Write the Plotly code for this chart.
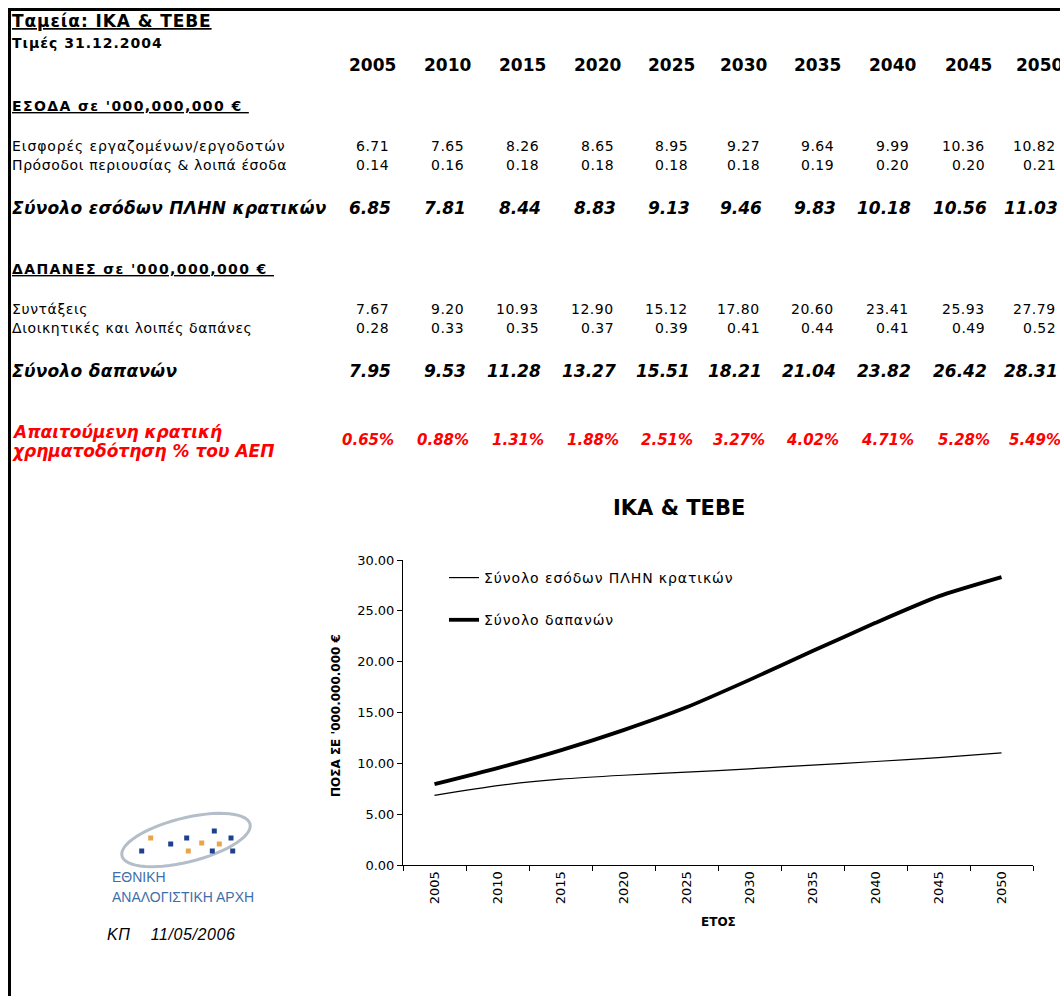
# ΙΚΑ & ΤΕΒΕ - εσοδα / δαπανες 2005-2050

import numpy as np
import plotly.graph_objects as go

W, H = 1060, 996
FONT = "DejaVu Sans"

# data (σε '000,000,000 €)
years = ["2005", "2010", "2015", "2020", "2025", "2030", "2035", "2040", "2045", "2050"]
eisfores = [6.71, 7.65, 8.26, 8.65, 8.95, 9.27, 9.64, 9.99, 10.36, 10.82]
prosodoi = [0.14, 0.16, 0.18, 0.18, 0.18, 0.18, 0.19, 0.20, 0.20, 0.21]
synolo_esodon = [6.85, 7.81, 8.44, 8.83, 9.13, 9.46, 9.83, 10.18, 10.56, 11.03]
syntakseis = [7.67, 9.20, 10.93, 12.90, 15.12, 17.80, 20.60, 23.41, 25.93, 27.79]
dioikitikes = [0.28, 0.33, 0.35, 0.37, 0.39, 0.41, 0.44, 0.41, 0.49, 0.52]
synolo_dapanon = [7.95, 9.53, 11.28, 13.27, 15.51, 18.21, 21.04, 23.82, 26.42, 28.31]
xrimatodotisi = [0.65, 0.88, 1.31, 1.88, 2.51, 3.27, 4.02, 4.71, 5.28, 5.49]  # % του ΑΕΠ


def px(x):
    return x / W


def py(y):
    return 1 - y / H


def spaced(text, ls):
    return f'<span style="letter-spacing:{ls}px">{text}</span>'


annotations = []


def note(text, x, y, size, anchor="left", color="black", weight="normal",
         style="normal", family=FONT, angle=0):
    annotations.append(dict(
        text=text, x=px(x), y=py(y), xref="paper", yref="paper",
        xanchor=anchor, yanchor="middle", showarrow=False, textangle=angle,
        borderpad=0,
        font=dict(family=family, size=size, color=color, weight=weight, style=style),
    ))


# table (right edge of each year column, pixels)
col_right = [389.6, 465, 540.4, 614.9, 689.4, 760.6, 835, 909.6, 986.4, 1057]

note("<u>" + spaced("Ταμεία: ΙΚΑ & ΤΕΒΕ", 0.9) + "</u>", 11, 21, 17, weight="bold")
note(spaced("Τιμές 31.12.2004", 1), 11, 43, 14, weight="bold")
for i, yr in enumerate(years):
    note(yr, col_right[i] + 7, 65, 17, anchor="right", weight="bold")

note("<u>" + spaced("ΕΣΟΔΑ σε '000,000,000 €\u00a0", 1.4) + "</u>", 11, 106, 14, weight="bold")
note(spaced("Εισφορές εργαζομένων/εργοδοτών", 0.9), 11, 146, 14)
note(spaced("Πρόσοδοι περιουσίας & λοιπά έσοδα", 0.6), 11, 165, 14)
note(spaced("Σύνολο εσόδων ΠΛΗΝ κρατικών", 0.3), 11, 208, 17, weight="bold", style="italic")

note("<u>" + spaced("ΔΑΠΑΝΕΣ σε '000,000,000 €\u00a0", 1.4) + "</u>", 11, 269, 14, weight="bold")
note(spaced("Συντάξεις", 0.6), 11, 309, 14)
note(spaced("Διοικητικές και λοιπές δαπάνες", 0.6), 11, 328, 14)
note(spaced("Σύνολο δαπανών", 0.3), 11, 371, 17, weight="bold", style="italic")

note("Απαιτούμενη κρατική", 11, 432, 17, color="#ff0000", weight="bold", style="italic")
note("χρηματοδότηση % του ΑΕΠ", 11, 451, 17, color="#ff0000", weight="bold", style="italic")

for i in range(len(years)):
    r = col_right[i]
    note(spaced(f"{eisfores[i]:.2f}", 0.5), r, 146, 14, anchor="right")
    note(spaced(f"{prosodoi[i]:.2f}", 0.5), r, 165, 14, anchor="right")
    note(f"{synolo_esodon[i]:.2f}", r + 2, 208, 17, anchor="right", weight="bold", style="italic")
    note(spaced(f"{syntakseis[i]:.2f}", 0.5), r, 309, 14, anchor="right")
    note(spaced(f"{dioikitikes[i]:.2f}", 0.5), r, 328, 14, anchor="right")
    note(f"{synolo_dapanon[i]:.2f}", r + 2, 371, 17, anchor="right", weight="bold", style="italic")
    note(f"{xrimatodotisi[i]:.2f}%", r + 5, 440, 15, anchor="right", color="#ff0000",
         weight="bold", style="italic")

# chart titles
note("ΙΚΑ & ΤΕΒΕ", 679, 508, 21, anchor="center", weight="bold")
note("ΠΟΣΑ ΣΕ '000.000.000 €", 336, 716, 12, anchor="center", weight="bold", angle=-90)
note("ΕΤΟΣ", 718, 922, 12, anchor="center", weight="bold")

# logo text
LOGO_FONT = "Liberation Sans Narrow, Liberation Sans"
note("ΕΘΝΙΚΗ", 111, 877, 14, color="#3f6fa8", family=LOGO_FONT)
note("ΑΝΑΛΟΓΙΣΤΙΚΗ ΑΡΧΗ", 111, 897, 14, color="#3f6fa8", family=LOGO_FONT)
note(spaced("ΚΠ\u00a0\u00a0\u00a0\u00a011/05/2006", 0.6), 106, 934, 16, style="italic",
     family="Liberation Sans")

shapes = []
# sheet borders
shapes.append(dict(type="line", xref="paper", yref="paper", x0=px(9.5), x1=px(9.5),
                   y0=py(8), y1=py(996), line=dict(color="black", width=3)))
shapes.append(dict(type="line", xref="paper", yref="paper", x0=px(8), x1=px(1060),
                   y0=py(9.5), y1=py(9.5), line=dict(color="black", width=3)))

# logo ring
t = np.linspace(0, 2 * np.pi, 60)
ang = np.deg2rad(-14)
ex = 186 + 66 * np.cos(t) * np.cos(ang) - 22 * np.sin(t) * np.sin(ang)
ey = 840 + 66 * np.cos(t) * np.sin(ang) + 22 * np.sin(t) * np.cos(ang)
path = "M " + " L ".join(f"{px(a):.5f},{py(b):.5f}" for a, b in zip(ex, ey)) + " Z"
shapes.append(dict(type="path", xref="paper", yref="paper", path=path,
                   line=dict(color="#b4bec8", width=3)))

# logo squares
squares = [(141.7, 851, "b"), (150.7, 838, "o"), (170.7, 844, "b"), (186.7, 838, "b"),
           (188.3, 851, "o"), (201.7, 843, "o"), (214.3, 831, "b"), (212.3, 851, "b"),
           (219.3, 844, "o"), (231, 838, "b"), (232.7, 851, "b")]
for sx, sy, c in squares:
    shapes.append(dict(type="rect", xref="paper", yref="paper",
                       x0=px(sx - 2.5), x1=px(sx + 2.5), y0=py(sy + 2.5), y1=py(sy - 2.5),
                       fillcolor="#1f3f8f" if c == "b" else "#e8a54b", line=dict(width=0)))

fig = go.Figure()
fig.add_trace(go.Scatter(x=years, y=synolo_esodon, mode="lines",
                         name=spaced("Σύνολο εσόδων ΠΛΗΝ κρατικών", 0.9),
                         line=dict(color="black", width=1.2, shape="spline", smoothing=0.6),
                         legendgroup="a", hoverinfo="skip"))
fig.add_trace(go.Scatter(x=years, y=synolo_dapanon, mode="lines",
                         name=spaced("Σύνολο δαπανών", 0.9),
                         line=dict(color="black", width=3.8, shape="spline", smoothing=0.6),
                         legendgroup="b", hoverinfo="skip"))

fig.update_layout(
    width=W, height=H, autosize=False,
    margin=dict(l=0, r=0, t=0, b=0, autoexpand=False),
    paper_bgcolor="white", plot_bgcolor="white",
    font=dict(family=FONT, color="black"),
    showlegend=True,
    legend=dict(x=px(444), y=py(562), xanchor="left", yanchor="top",
                bgcolor="rgba(0,0,0,0)", font=dict(family=FONT, size=14, color="black"),
                itemwidth=30, traceorder="grouped", tracegroupgap=21),
    xaxis=dict(domain=[px(403), px(1033)], type="category", range=[-0.5, 9.5],
               showline=True, linecolor="black", linewidth=1, showgrid=False,
               ticks="outside", ticklen=5, tickcolor="black", tickson="boundaries",
               tickangle=-90, tickfont=dict(family=FONT, size=13, color="black"),
               zeroline=False, automargin=False),
    yaxis=dict(domain=[py(865), py(560)], range=[0, 30], dtick=5, tickformat=".2f",
               showline=True, linecolor="black", linewidth=1, showgrid=False,
               ticks="outside", ticklen=5, tickcolor="black",
               tickfont=dict(family=FONT, size=13, color="black"), zeroline=False,
               automargin=False),
    annotations=annotations,
    shapes=shapes,
)

fig.write_html("out.html", config={"displayModeBar": False},
               post_script="document.body.style.margin='0';")
